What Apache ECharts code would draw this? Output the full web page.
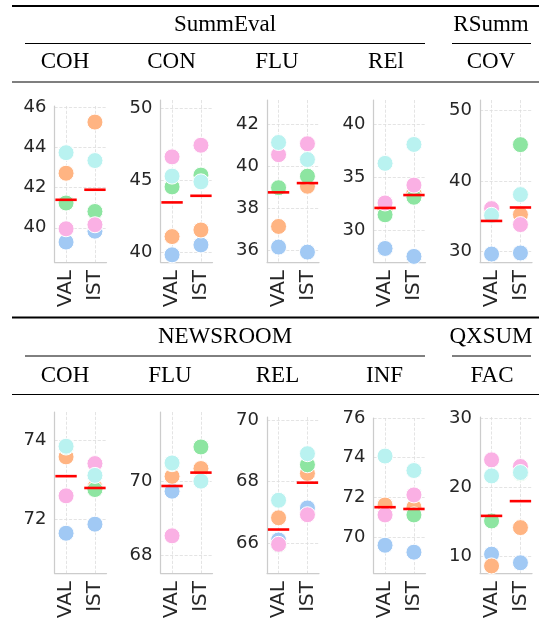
<!DOCTYPE html>
<html>
<head>
<meta charset="utf-8">
<script src="https://cdn.jsdelivr.net/npm/echarts@6/dist/echarts.min.js"></script>
<style>
html, body { margin: 0; padding: 0; background: #fff; }
#main { width: 539px; height: 626px; }
</style>
</head>
<body>
<div id="main"></div>
<script>
// x categories and hue order (blue, orange, green, pink, cyan)
var splits = ['VAL', 'IST'];
var hueColors = ['#a1c9f4', '#ffb482', '#8de5a1', '#fab0e4', '#b9f2f0'];

// values per panel: [VAL values, IST values], in hue order
var seCOH = [[39.29, 42.71, 41.23, 39.95, 43.73], [39.83, 45.25, 40.81, 40.15, 43.34]];
var seCON = [[39.80, 41.07, 44.53, 46.62, 45.28], [40.49, 41.53, 45.35, 47.43, 44.88]];
var seFLU = [[36.16, 37.14, 38.98, 40.55, 41.13], [35.92, 39.05, 39.53, 41.07, 40.32]];
var seREL = [[28.28, 32.00, 31.47, 32.59, 36.34], [27.53, 33.60, 33.13, 34.28, 38.13]];
var rsCOV = [[29.63, 35.50, 35.30, 36.08, 35.13], [29.78, 35.23, 45.16, 33.81, 38.07]];
var nrCOH = [[71.64, 73.58, 73.83, 72.59, 73.85], [71.87, 72.81, 72.75, 73.41, 73.11]];
var nrFLU = [[69.73, 70.13, 70.47, 68.53, 70.49], [70.00, 70.34, 70.92, 70.00, 70.00]];
var nrREL = [[66.11, 66.83, 65.95, 65.97, 67.40], [67.15, 68.27, 68.55, 66.93, 68.91]];
var nrINF = [[69.58, 71.61, 71.12, 71.11, 74.08], [69.23, 71.50, 71.11, 72.12, 73.35]];
var qxFAC = [[10.25, 8.53, 15.09, 24.00, 21.66], [8.99, 14.12, 22.05, 23.03, 22.15]];

// red mean bars [VAL, IST]
var seCOHmean = [41.39, 41.89];
var seCONmean = [43.45, 43.91];
var seFLUmean = [38.76, 39.20];
var seRELmean = [32.12, 33.34];
var rsCOVmean = [34.33, 36.24];
var nrCOHmean = [73.09, 72.79];
var nrFLUmean = [69.87, 70.23];
var nrRELmean = [66.45, 67.97];
var nrINFmean = [71.50, 71.41];
var qxFACmean = [15.83, 17.98];

// y tick labels
var seCOHticks = [40, 42, 44, 46];
var seCONticks = [40, 45, 50];
var seFLUticks = [36, 38, 40, 42];
var seRELticks = [30, 35, 40];
var rsCOVticks = [30, 40, 50];
var nrCOHticks = [72, 74];
var nrFLUticks = [68, 70];
var nrRELticks = [66, 68, 70];
var nrINFticks = [70, 72, 74, 76];
var qxFACticks = [10, 20, 30];

var panels = [seCOH, seCON, seFLU, seREL, rsCOV, nrCOH, nrFLU, nrREL, nrINF, qxFAC];
var means = [seCOHmean, seCONmean, seFLUmean, seRELmean, rsCOVmean,
             nrCOHmean, nrFLUmean, nrRELmean, nrINFmean, qxFACmean];
var ticks = [seCOHticks, seCONticks, seFLUticks, seRELticks, rsCOVticks,
             nrCOHticks, nrFLUticks, nrRELticks, nrINFticks, qxFACticks];

// layout
var yLimits = [[38.3, 46.05], [39.3, 50.58], [35.45, 43.15], [27.0, 42.34], [28.5, 51.5],
               [70.63, 74.72], [67.53, 71.86], [65.04, 70.1], [68.18, 76.0], [7.5, 30.25]];
var colLeft = [54.5, 160.5, 267, 373.5, 480];
var rowTops = [[106, 100, 100, 100, 100], [412, 412, 417, 418, 417]];
var rowBottom = [262, 573];

var dom = document.getElementById('main');
var myChart = echarts.init(dom);

function gridLine() {
    return { show: true, lineStyle: { type: 'dashed', color: '#dddddd', width: 0.8 } };
}
function spine() {
    return { show: true, onZero: false, lineStyle: { color: '#cccccc', width: 1.25 } };
}

var grids = [], xAxes = [], yAxes = [], series = [];

for (var p = 0; p < panels.length; p++) {
    var row = p < 5 ? 0 : 1;
    var col = p % 5;
    var gridTop = rowTops[row][col];
    grids.push({ left: colLeft[col], top: gridTop, width: 52, height: rowBottom[row] - gridTop });
    xAxes.push({
        type: 'value', gridIndex: p, min: -0.4, max: 1.4,
        axisLine: spine(),
        axisTick: { show: false, customValues: [0, 1] },
        axisLabel: {
            customValues: [0, 1], rotate: 90, margin: 8,
            color: '#262626', fontSize: 20, fontFamily: 'DejaVu Sans',
            formatter: function (v) { return splits[Math.round(v)]; }
        },
        splitLine: gridLine()
    });
    yAxes.push({
        type: 'value', gridIndex: p, min: yLimits[p][0], max: yLimits[p][1],
        axisLine: spine(),
        axisTick: { show: false, customValues: ticks[p].slice() },
        axisLabel: {
            customValues: ticks[p].slice(), margin: 8,
            color: '#262626', fontSize: 18, fontFamily: 'DejaVu Sans'
        },
        splitLine: gridLine()
    });
    for (var h = 0; h < hueColors.length; h++) {
        var pts = [];
        for (var i = 0; i < splits.length; i++) {
            pts.push([i, panels[p][i][h]]);
        }
        series.push({
            type: 'scatter', xAxisIndex: p, yAxisIndex: p,
            symbolSize: 16,
            itemStyle: { color: hueColors[h], borderColor: '#ffffff', borderWidth: 1, opacity: 1 },
            data: pts,
            z: 2 + h
        });
    }
    // mean marker
    var mpts = [];
    for (var j = 0; j < splits.length; j++) {
        mpts.push([j, means[p][j]]);
    }
    series.push({
        type: 'custom', xAxisIndex: p, yAxisIndex: p, z: 10,
        data: mpts,
        renderItem: function (params, api) {
            var a = api.coord([api.value(0) - 0.37, api.value(1)]);
            var b = api.coord([api.value(0) + 0.37, api.value(1)]);
            return {
                type: 'line',
                shape: { x1: a[0], y1: a[1], x2: b[0], y2: b[1] },
                style: { stroke: '#ff0000', lineWidth: 2.6 }
            };
        }
    });
}

// table-like headers
var serif = '23px "Liberation Serif", "Times New Roman", serif';
function rule(x1, x2, y, w) {
    return { type: 'line', shape: { x1: x1, y1: y, x2: x2, y2: y }, style: { stroke: '#000', lineWidth: w } };
}
function label(t, x, y) {
    return { type: 'text', x: x, y: y, style: { text: t, font: serif, fill: '#000', textAlign: 'center', textVerticalAlign: 'middle' } };
}
var graphics = [
    rule(12, 539, 6, 2), rule(25, 425, 43.5, 1), rule(452, 531, 43.5, 1), rule(12, 539, 82, 1.2),
    label('SummEval', 225, 24.5), label('RSumm', 491, 24.5),
    label('COH', 65, 62.3), label('CON', 171.5, 62.3), label('FLU', 277, 62.3),
    label('REl', 386, 62.3), label('COV', 491, 62.3),
    rule(12, 539, 317.5, 2), rule(25, 425, 356, 1), rule(452, 531, 356, 1), rule(12, 539, 394.5, 1.2),
    label('NEWSROOM', 225, 336.5), label('QXSUM', 491, 336.5),
    label('COH', 65, 375.5), label('FLU', 170, 375.5), label('REL', 277.5, 375.5),
    label('INF', 384.5, 375.5), label('FAC', 492, 375.5)
];

var option = {
    backgroundColor: '#ffffff',
    animation: false,
    grid: grids,
    xAxis: xAxes,
    yAxis: yAxes,
    series: series,
    graphic: graphics
};
myChart.setOption(option, true);
</script>
</body>
</html>
